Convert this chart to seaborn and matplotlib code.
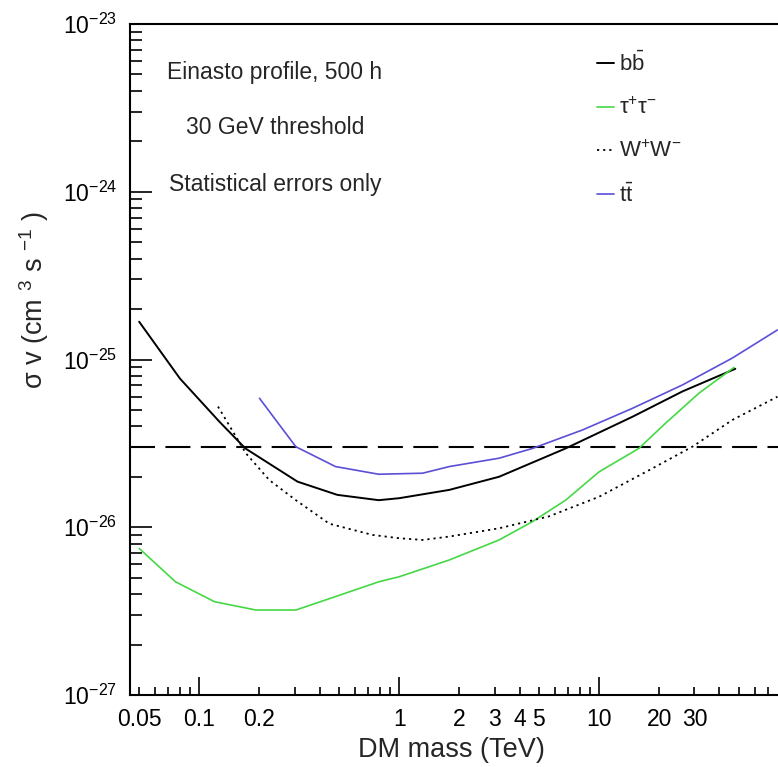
import matplotlib
matplotlib.use("Agg")
import matplotlib.pyplot as plt
import matplotlib.ticker as mticker
import numpy as np
import pandas as pd
import seaborn as sns

sns.set_theme(style="ticks")
plt.rcParams["font.family"] = ["Liberation Sans", "DejaVu Sans"]
plt.rcParams["mathtext.fontset"] = "custom"
plt.rcParams["mathtext.rm"] = "Liberation Sans"
plt.rcParams["mathtext.it"] = "Liberation Sans"
plt.rcParams["mathtext.bf"] = "Liberation Sans:bold"
plt.rcParams["mathtext.default"] = "regular"

FONT_SIZE = 16.5
TITLE_SIZE = 19.5
THERMAL_XSEC = 3e-26

# channel curves (mass in TeV, <sigma v> in cm^3 s^-1)
BB_MASS = [0.05, 0.08, 0.126, 0.17, 0.31, 0.49, 0.79, 1.0, 1.78, 3.16, 6.8, 14.7, 26.1, 48]
BB_XSEC = [1.68e-25, 7.7e-26, 4.26e-26, 2.95e-26, 1.87e-26, 1.56e-26, 1.45e-26, 1.49e-26,
           1.67e-26, 2.0e-26, 2.95e-26, 4.56e-26, 6.45e-26, 8.8e-26]

TAU_MASS = [0.05, 0.076, 0.119, 0.192, 0.304, 0.48, 0.79, 1.0, 1.78, 3.16, 4.64, 6.8, 10,
            15.8, 21.5, 31.6, 47.3]
TAU_XSEC = [7.48e-27, 4.73e-27, 3.6e-27, 3.21e-27, 3.21e-27, 3.86e-27, 4.73e-27, 5.07e-27,
            6.38e-27, 8.4e-27, 1.08e-26, 1.45e-26, 2.14e-26, 2.95e-26, 4.17e-26, 6.3e-26, 8.97e-26]

WW_MASS = [0.124, 0.171, 0.224, 0.304, 0.447, 0.735, 1.0, 1.31, 1.78, 3.16, 5.6, 10, 17.8,
           29.4, 46.4, 78]
WW_XSEC = [5.24e-26, 2.76e-26, 1.91e-26, 1.45e-26, 1.05e-26, 9.0e-27, 8.6e-27, 8.4e-27,
           8.8e-27, 9.86e-27, 1.16e-26, 1.52e-26, 2.19e-26, 3.03e-26, 4.36e-26, 6.0e-26]

TT_MASS = [0.2, 0.304, 0.48, 0.79, 1.31, 1.78, 3.16, 4.64, 8.25, 14.7, 26.1, 46.4, 78]
TT_XSEC = [5.87e-26, 3.02e-26, 2.3e-26, 2.07e-26, 2.1e-26, 2.3e-26, 2.58e-26, 2.95e-26,
           3.8e-26, 5.12e-26, 7.05e-26, 1.02e-25, 1.5e-25]

X_LIMITS = (0.045, 100)
Y_LIMITS = (1e-27, 1e-23)
X_LABELED = [0.05, 0.1, 0.2, 1, 2, 3, 4, 5, 10, 20, 30]
Y_DECADES = [1e-27, 1e-26, 1e-25, 1e-24, 1e-23]

ANNOTATIONS = ["Einasto profile, 500 h", "30 GeV threshold", "Statistical errors only"]

W, H = 778, 767
fig = plt.figure(figsize=(W / 100, H / 100), dpi=100)
ax = fig.add_axes([130 / W, 72 / H, 669 / W, 671 / H])
ax.set_xscale("log")
ax.set_yscale("log")
ax.set_xlim(*X_LIMITS)
ax.set_ylim(*Y_LIMITS)

ax.axhline(THERMAL_XSEC, color="black", linewidth=1.5, dashes=(12, 5))

sns.lineplot(x=BB_MASS, y=BB_XSEC, color="black", linewidth=1.4, label=r"$b\bar{b}$", ax=ax)
sns.lineplot(x=TAU_MASS, y=TAU_XSEC, color="#45d845", linewidth=1.2,
             label=r"$\tau^{+}\tau^{-}$", ax=ax)
sns.lineplot(x=WW_MASS, y=WW_XSEC, color="black", linewidth=1.3, linestyle=(0, (1.2, 2.2)),
             label=r"$W^{+}W^{-}$", ax=ax)
sns.lineplot(x=TT_MASS, y=TT_XSEC, color="#5a4fd6", linewidth=1.2, label=r"$t\bar{t}$", ax=ax)

# ticks: decades long, 2..9 short, labels on selected masses
x_decades = [0.1, 1, 10]
x_minor = [d * k for d in [0.01, 0.1, 1, 10] for k in range(2, 10)
           if X_LIMITS[0] <= d * k <= X_LIMITS[1]]
ax.xaxis.set_major_locator(mticker.FixedLocator(x_decades))
ax.xaxis.set_minor_locator(mticker.FixedLocator(x_minor))
fmt = mticker.FuncFormatter(lambda v, p: f"{v:g}" if any(np.isclose(v, X_LABELED)) else "")
ax.xaxis.set_major_formatter(fmt)
ax.xaxis.set_minor_formatter(fmt)
y_minor = [d * k for d in Y_DECADES[:-1] for k in range(2, 10)]
ax.yaxis.set_major_locator(mticker.FixedLocator(Y_DECADES))
ax.yaxis.set_major_formatter(mticker.LogFormatterSciNotation())
ax.yaxis.set_minor_locator(mticker.FixedLocator(y_minor))
ax.yaxis.set_minor_formatter(mticker.NullFormatter())

ax.tick_params(axis="both", which="both", direction="in", colors="black",
               labelsize=FONT_SIZE, width=1.2)
ax.tick_params(axis="x", which="major", length=13, pad=9)
ax.tick_params(axis="x", which="minor", length=6, pad=9)
ax.tick_params(axis="y", which="major", length=16, pad=9)
ax.tick_params(axis="y", which="minor", length=8.5)

for side in ["left", "bottom", "top", "right"]:
    ax.spines[side].set_color("black")
    ax.spines[side].set_linewidth(1.5)

ax.set_xlabel("DM mass (TeV)", fontsize=TITLE_SIZE)
ax.xaxis.set_label_coords(0.48, -0.063)
ax.set_ylabel(r"$\sigma$ v (cm $^{3}$ s $^{-1}$ )", fontsize=TITLE_SIZE)
ax.yaxis.set_label_coords(-0.118, 0.589)

for text, ypix in zip(ANNOTATIONS, [73, 128, 185]):
    fig.text(275 / W, 1 - ypix / H, text, fontsize=FONT_SIZE, ha="center", va="center")

ax.legend(loc="upper left", bbox_to_anchor=(597 / W, 1 - 52 / H),
          bbox_transform=fig.transFigure, frameon=False, fontsize=16,
          handlelength=0.75, handletextpad=0.25, labelspacing=0.97, borderpad=0,
          borderaxespad=0)

fig.savefig("out.png", dpi=100)
